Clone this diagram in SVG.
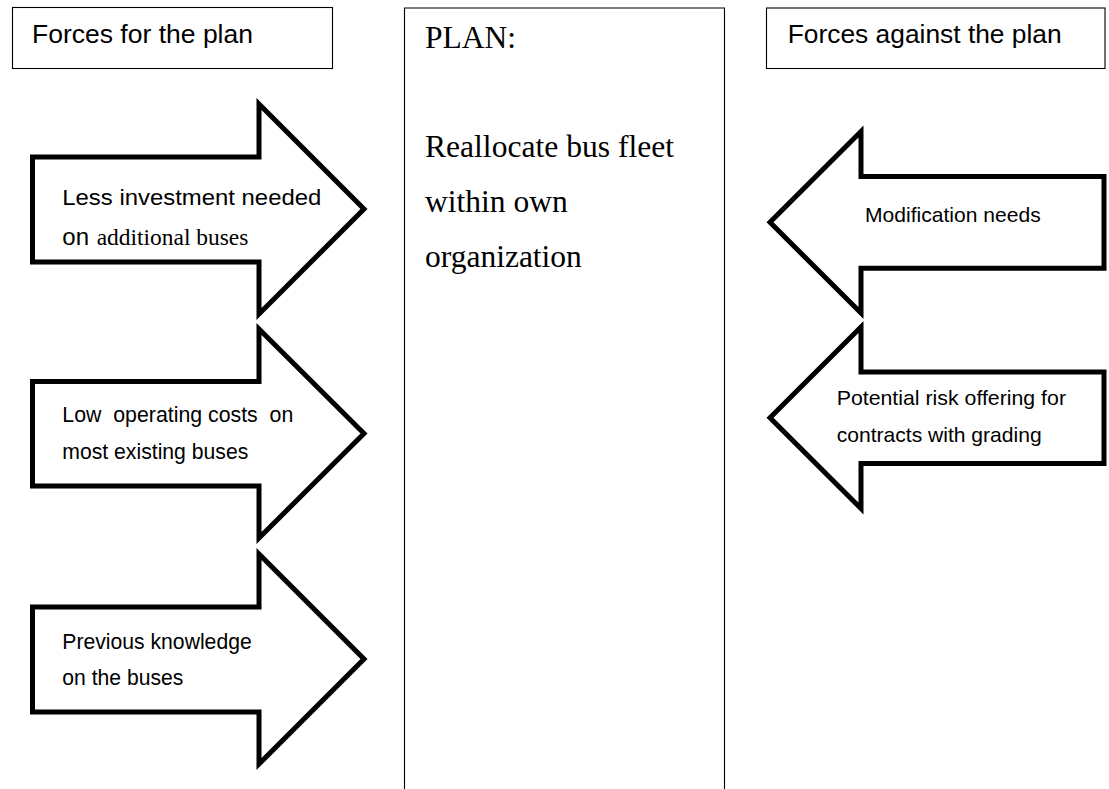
<svg xmlns="http://www.w3.org/2000/svg" width="1109" height="789" viewBox="0 0 1109 789">
<style>
.box{fill:#fff;stroke:#000;stroke-width:1.1}
.arrow{fill:#fff;stroke:#000;stroke-width:5;stroke-linejoin:miter;stroke-miterlimit:10}
.sans{font-family:"Liberation Sans",Arial,sans-serif;fill:#000}
.serif{font-family:"Liberation Serif","Times New Roman",serif;fill:#000}
.hdr{font-size:25.5px}
.lt{font-size:21.5px}
.rt{font-size:21px}
.plan{font-size:31.5px}
</style>
<rect width="1109" height="789" fill="#fff"/>
<g id="header-for">
<rect class="box" x="12.5" y="7.5" width="320" height="61"/>
<text class="sans hdr" x="32" y="43" textLength="221" lengthAdjust="spacingAndGlyphs">Forces for the plan</text>
</g>
<g id="plan">
<path class="box" d="M404.5,795 V8 H724.5 V795" fill="#fff"/>
<text class="serif plan" x="425" y="48">PLAN:</text>
<text class="serif plan" x="425" y="156.7" textLength="249" lengthAdjust="spacingAndGlyphs">Reallocate bus fleet</text>
<text class="serif plan" x="425" y="211.7">within own</text>
<text class="serif plan" x="425" y="266.7">organization</text>
</g>
<g id="header-against">
<rect class="box" x="766.5" y="8" width="338.5" height="60.5"/>
<text class="sans hdr" x="787.7" y="43.3" textLength="274" lengthAdjust="spacingAndGlyphs">Forces against the plan</text>
</g>
<g id="connectors">
<g id="force-for-1">
<path class="arrow" d="M32.5,157 H259 V104 L364,209 L259,314 V262 H32.5 Z"/>
<text class="sans lt" x="62.3" y="205" textLength="259" lengthAdjust="spacingAndGlyphs">Less investment needed</text>
<text class="sans" x="62.3" y="245" font-size="24">on</text>
<text class="serif" x="96.7" y="245" font-size="23" textLength="151.7" lengthAdjust="spacingAndGlyphs">additional buses</text>
</g>
<g id="force-for-2">
<path class="arrow" d="M32.5,381.5 H259 V329 L364,433.5 L259,538 V486 H32.5 Z"/>
<text class="sans lt" x="62.3" y="421.7" textLength="231" lengthAdjust="spacingAndGlyphs" xml:space="preserve">Low  operating costs  on</text>
<text class="sans lt" x="62.3" y="459.3" textLength="186" lengthAdjust="spacingAndGlyphs">most existing buses</text>
</g>
<g id="force-for-3">
<path class="arrow" d="M32.5,607 H259 V554 L364,659 L259,764 V712 H32.5 Z"/>
<text class="sans lt" x="62.3" y="649.3" textLength="189.4" lengthAdjust="spacingAndGlyphs">Previous knowledge</text>
<text class="sans lt" x="62.3" y="685" textLength="121" lengthAdjust="spacingAndGlyphs">on the buses</text>
</g>
<g id="force-against-1">
<path class="arrow" d="M1104,176.5 H861 V131.5 L770,222.3 L861,313 V268.2 H1104 Z"/>
<text class="sans rt" x="865" y="221.7" textLength="175.7" lengthAdjust="spacingAndGlyphs">Modification needs</text>
</g>
<g id="force-against-2">
<path class="arrow" d="M1104,372 H861 V327 L770,417.7 L861,508.5 V463.5 H1104 Z"/>
<text class="sans rt" x="836.7" y="405" textLength="229.3" lengthAdjust="spacingAndGlyphs">Potential risk offering for</text>
<text class="sans rt" x="836.7" y="441.7" textLength="205" lengthAdjust="spacingAndGlyphs">contracts with grading</text>
</g>
</g>
</svg>
